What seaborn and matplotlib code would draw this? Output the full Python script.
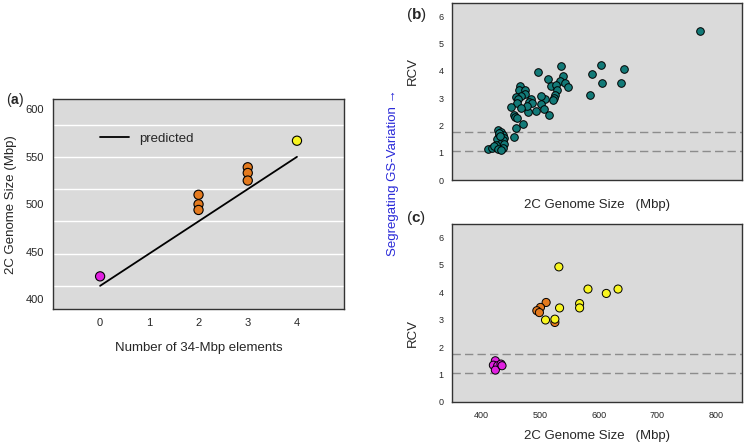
import matplotlib
matplotlib.use("Agg")
import matplotlib.pyplot as plt
import seaborn as sns
import pandas as pd

# =========================
# DATA
# =========================

# panel (a): genome size vs number of 34-Mbp elements
a_elements = [0, 2, 2, 2, 3, 3, 3, 4]
a_size = [424, 510, 500, 494, 539, 533, 525, 567]
a_group = ["g0", "g2", "g2", "g2", "g3", "g3", "g3", "g4"]
pred_x = [0, 4]
pred_y = [414, 550]
grid_levels = [414, 448, 482, 516, 550, 584]

# panel (b): all lines, RCV vs 2C genome size
b_size = [772.6, 604.3, 642.5, 588.9, 606.0, 637.4, 584.3, 534.7, 495.9, 514.1,
          538.7, 533.0, 542.0, 547.0, 518.7, 527.0, 528.7, 525.5, 523.2, 521.5,
          508.4, 502.0, 500.9, 506.0, 515.8, 493.0, 484.0, 480.5, 486.0, 479.3,
          478.0, 471.3, 466.2, 463.3, 474.2, 474.8, 468.0, 458.2, 462.0, 459.8,
          467.5, 450.2, 455.9, 457.0, 460.5, 458.2, 454.8,
          427.4, 433.2, 430.3, 436.0, 438.9, 426.4, 436.0, 432.0, 438.9, 424.6,
          436.0, 410.3, 417.1, 421.7, 427.4, 433.2, 429.0, 431.4]
b_rcv = [5.48, 4.22, 4.08, 3.88, 3.55, 3.55, 3.12, 4.19, 3.97, 3.72,
         3.80, 3.62, 3.57, 3.40, 3.46, 3.50, 3.31, 3.13, 3.01, 2.95,
         2.98, 3.07, 2.80, 2.60, 2.38, 2.55, 2.98, 2.86, 2.82, 2.51,
         2.70, 2.04, 3.46, 3.31, 3.31, 3.17, 3.07, 3.06, 2.97, 2.82,
         2.65, 2.68, 2.40, 2.31, 2.27, 1.91, 1.58,
         1.83, 1.77, 1.65, 1.67, 1.55, 1.50, 1.47, 1.34, 1.31, 1.28,
         1.18, 1.16, 1.18, 1.26, 1.14, 1.10, 1.72, 1.60]

# panel (c): lines coloured by element number
c_size = [423.4, 420.0, 427.4, 423.4, 433.0, 434.8,
          510.1, 500.4, 494.2, 498.6, 525.0,
          531.8, 581.5, 612.8, 632.8, 567.2, 567.2, 533.0, 509.0, 525.0]
c_rcv = [1.50, 1.34, 1.32, 1.16, 1.38, 1.32,
         3.63, 3.45, 3.33, 3.26, 2.90,
         4.93, 4.12, 3.96, 4.12, 3.59, 3.43, 3.43, 2.99, 3.02]
c_group = ["g0"] * 6 + ["g2"] * 5 + ["g4"] * 9

rcv_thresholds = [1.07, 1.75]

colors = {"g0": "#e020e0", "g2": "#e47a1e", "g3": "#e47a1e", "g4": "#f8f520"}
teal = "#137a78"
bg = "#dadada"

df_a = pd.DataFrame({"n": a_elements, "size": a_size, "group": a_group})
df_b = pd.DataFrame({"size": b_size, "rcv": b_rcv})
df_c = pd.DataFrame({"size": c_size, "rcv": c_rcv, "group": c_group})
df_pred = pd.DataFrame({"n": pred_x, "size": pred_y})

# =========================
# FIGURE
# =========================

sns.set_style("white")
plt.rcParams["font.family"] = ["Liberation Sans", "DejaVu Sans"]
plt.rcParams["mathtext.fontset"] = "custom"
plt.rcParams["mathtext.rm"] = "Liberation Sans"
plt.rcParams["mathtext.bf"] = "Liberation Sans:bold"

fig = plt.figure(figsize=(7.44, 4.46), dpi=100)
ax_a = fig.add_axes([0.0717, 0.307, 0.3903, 0.470])
ax_b = fig.add_axes([0.608, 0.596, 0.389, 0.398])
ax_c = fig.add_axes([0.608, 0.099, 0.389, 0.399])

for ax in (ax_a, ax_b, ax_c):
    ax.set_facecolor(bg)
    for sp in ax.spines.values():
        sp.set_color("#333333")
        sp.set_linewidth(1.0)
    ax.tick_params(direction="out", length=3, width=0.8, color="#333333")

# =========================
# PANEL (a)
# =========================

for g in grid_levels:
    ax_a.axhline(g, color="white", lw=1.0, zorder=0)

sns.lineplot(data=df_pred, x="n", y="size", ax=ax_a, color="black", lw=1.3,
             label="predicted", zorder=2)
sns.scatterplot(data=df_a, x="n", y="size", hue="group", palette=colors, ax=ax_a,
                s=44, edgecolor="black", linewidth=0.8, legend=False, zorder=3)

ax_a.set_xlim(-0.95, 4.95)
ax_a.set_ylim(389.5, 610.5)
ax_a.set_xticks([0, 1, 2, 3, 4])
ax_a.set_yticks([400, 450, 500, 550, 600])
ax_a.tick_params(labelsize=8)
ax_a.set_xlabel("Number of 34-Mbp elements", fontsize=9.5, labelpad=10)
ax_a.set_ylabel("2C Genome Size (Mbp)", fontsize=9.5, labelpad=6)
ax_a.legend(loc="upper left", bbox_to_anchor=(0.12, 0.9), frameon=False,
            fontsize=9.5, handlelength=2.2)
fig.text(0.008, 0.775, r"($\mathbf{a}$)", fontsize=10, va="center")

# =========================
# PANELS (b) and (c)
# =========================

sns.scatterplot(data=df_b, x="size", y="rcv", ax=ax_b, color=teal, s=30,
                edgecolor="black", linewidth=0.7, zorder=3)
sns.scatterplot(data=df_c, x="size", y="rcv", hue="group", palette=colors, ax=ax_c,
                s=34, edgecolor="black", linewidth=0.7, legend=False, zorder=3)

for ax in (ax_b, ax_c):
    for t in rcv_thresholds:
        ax.axhline(t, color="#8c8c8c", lw=1.0, ls=(0, (6, 3)), zorder=1)
    ax.set_xlim(350, 844)
    ax.set_ylim(0, 6.5)
    ax.set_xticks([400, 500, 600, 700, 800])
    ax.set_yticks([0, 1, 2, 3, 4, 5, 6])
    ax.tick_params(labelsize=6.5)
    ax.set_ylabel("RCV", fontsize=9.5)
    ax.set_xlabel("2C Genome Size   (Mbp)", fontsize=9.5, labelpad=7)
    ax.yaxis.get_major_ticks()[0].tick1line.set_visible(False)

ax_b.set_xticklabels([])
ax_b.yaxis.set_label_coords(-0.115, 4.0 / 6.5)
ax_c.yaxis.set_label_coords(-0.115, 2.5 / 6.5)

fig.text(0.546, 0.966, r"($\mathbf{b}$)", fontsize=11, va="center")
fig.text(0.546, 0.511, r"($\mathbf{c}$)", fontsize=11, va="center")

fig.text(0.528, 0.614, "Segregating GS-Variation \u2192", color="#2a2ad8",
         fontsize=9.5, rotation=90, ha="center", va="center")

fig.savefig("out.png", dpi=100)
